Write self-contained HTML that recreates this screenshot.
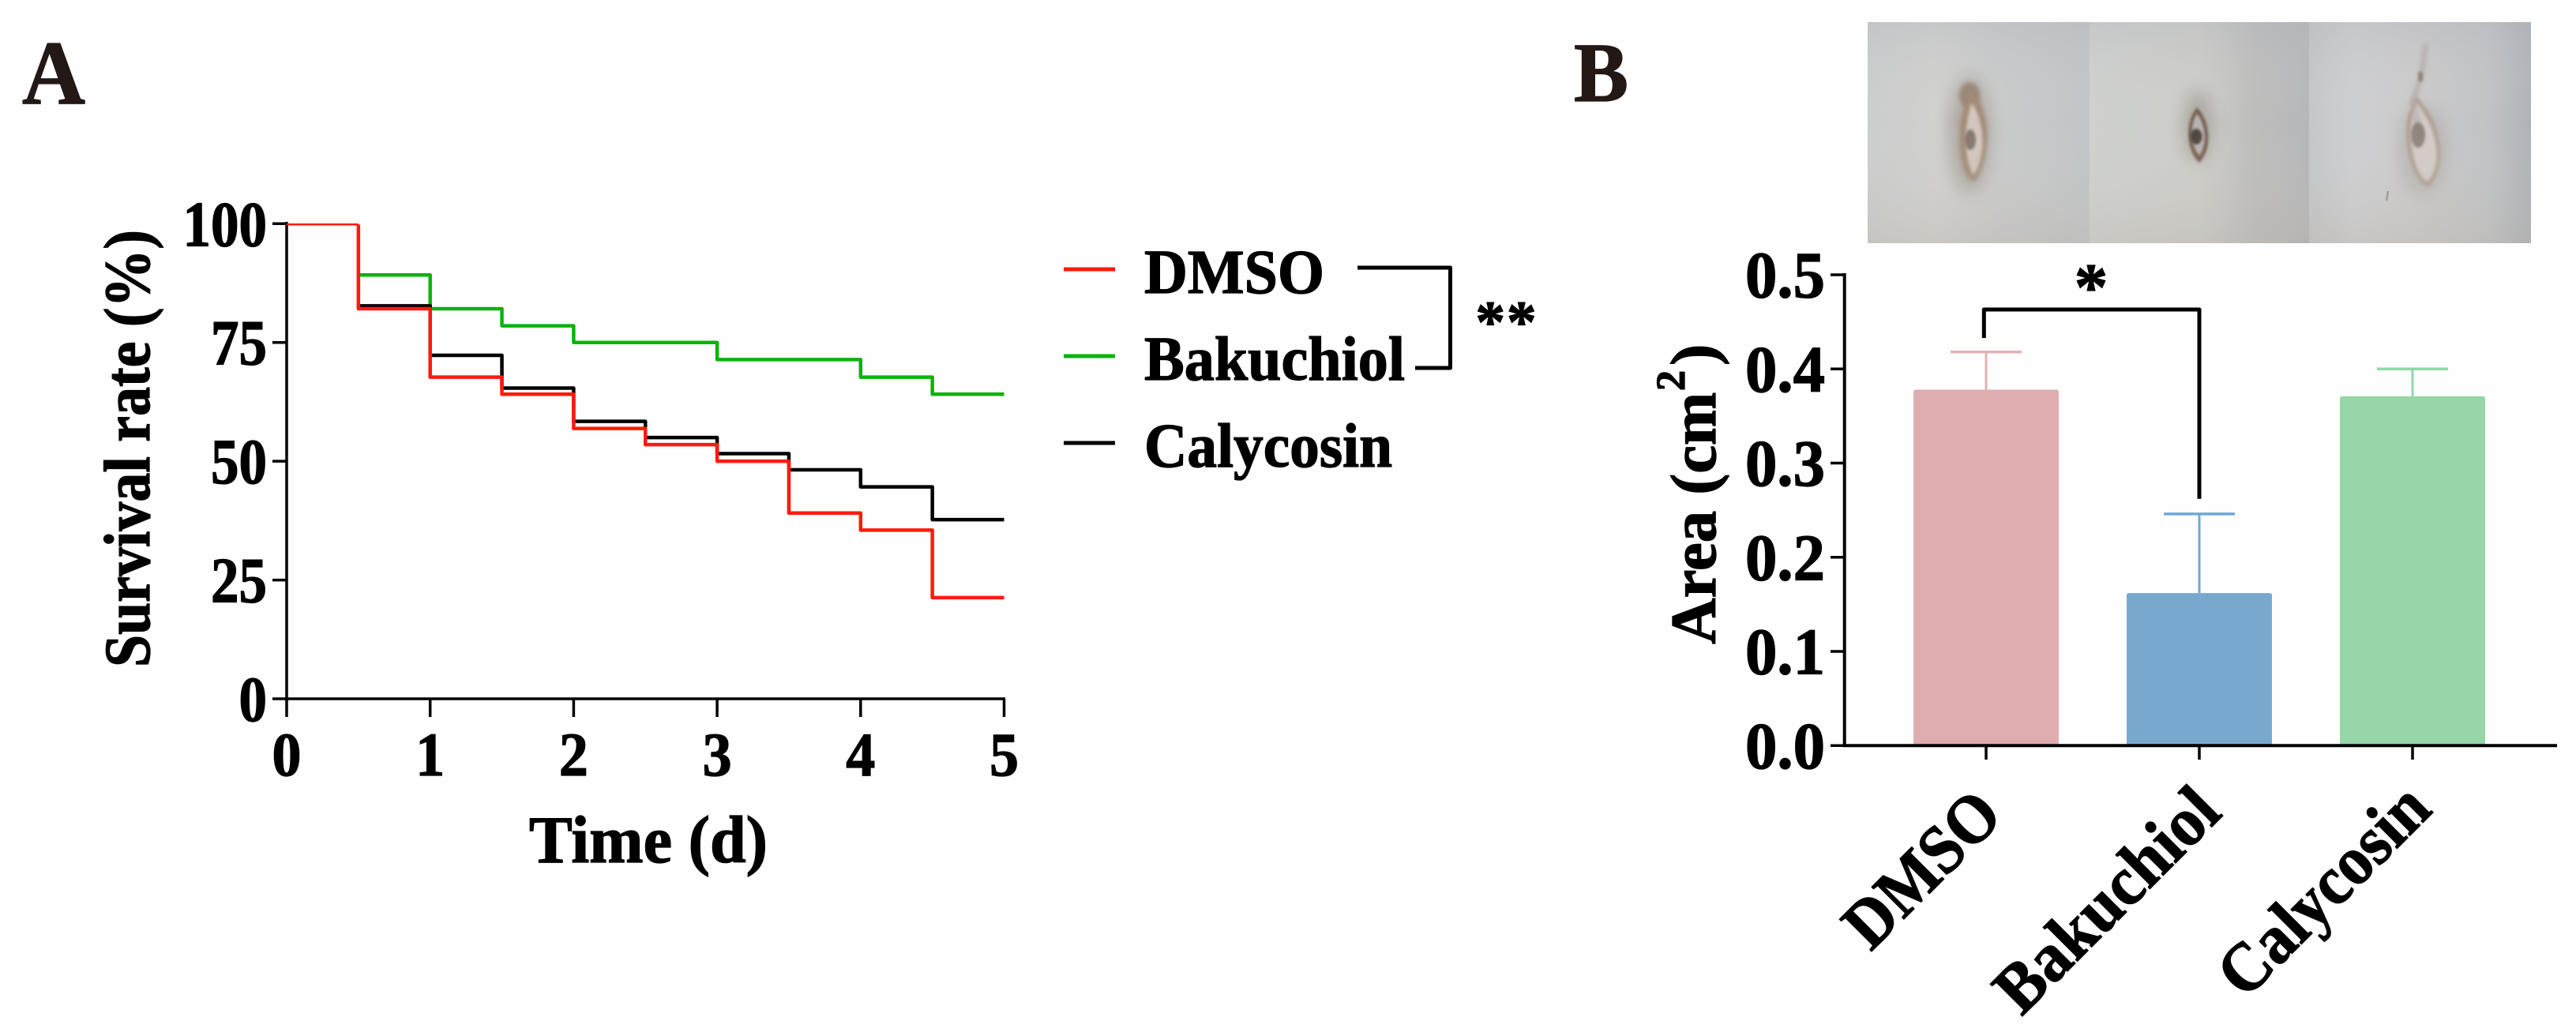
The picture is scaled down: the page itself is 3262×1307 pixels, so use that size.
<!DOCTYPE html>
<html lang="en">
<head>
<meta charset="utf-8">
<title>Survival rate and wound area</title>
<style>
html,body{margin:0;padding:0;background:#fefefe;width:3262px;height:1307px;overflow:hidden}
svg{display:block}
text{font-family:"Liberation Serif","Times New Roman",serif;font-weight:bold;fill:#000;stroke:#000;stroke-width:1.3px}
</style>
</head>
<body>
<svg id="fig" xmlns="http://www.w3.org/2000/svg" width="3262" height="1307" viewBox="0 0 3262 1307">
  <defs>
    <clipPath id="photo-clip"><rect x="2365" y="28" width="840" height="280"/></clipPath>
    <filter id="b3" x="-60%" y="-60%" width="220%" height="220%"><feGaussianBlur stdDeviation="3"/></filter>
    <filter id="b2" x="-60%" y="-60%" width="220%" height="220%"><feGaussianBlur stdDeviation="2"/></filter>
    <filter id="b8" x="-100%" y="-100%" width="300%" height="300%"><feGaussianBlur stdDeviation="11"/></filter>
    <filter id="b1" x="-50%" y="-50%" width="200%" height="200%"><feGaussianBlur stdDeviation="1.5"/></filter>
    <filter id="b20" x="-100%" y="-20%" width="300%" height="140%"><feGaussianBlur stdDeviation="14"/></filter>
    <linearGradient id="p1" x1="0" x2="1" y1="0" y2="0">
      <stop offset="0" stop-color="#cbcdcd"/><stop offset=".3" stop-color="#d1d1ce"/><stop offset=".6" stop-color="#c9caca"/><stop offset="1" stop-color="#c1c5c7"/>
    </linearGradient>
    <linearGradient id="p2" x1="0" x2="1" y1="0" y2="0">
      <stop offset="0" stop-color="#cfd1cf"/><stop offset=".5" stop-color="#cdcdc8"/><stop offset=".75" stop-color="#bfbfbe"/><stop offset="1" stop-color="#b5b6b9"/>
    </linearGradient>
    <linearGradient id="p3" x1="0" x2="1" y1="0" y2="0">
      <stop offset="0" stop-color="#c4c6c8"/><stop offset=".2" stop-color="#cecfd2"/><stop offset=".5" stop-color="#cbcaca"/><stop offset=".8" stop-color="#c1c3c6"/><stop offset="1" stop-color="#aeb2b7"/>
    </linearGradient>
    <linearGradient id="shade" x1="0" x2="0" y1="0" y2="1">
      <stop offset="0" stop-color="#aeb2bc" stop-opacity=".3"/><stop offset=".45" stop-color="#d8d8d4" stop-opacity="0"/><stop offset="1" stop-color="#b8afa2" stop-opacity=".28"/>
    </linearGradient>
  </defs>

  <g id="photo-strip" clip-path="url(#photo-clip)">
    <g>
      <rect x="2365" y="28" width="281" height="280" fill="url(#p1)"/>
      <ellipse cx="2494" cy="170" rx="26" ry="74" fill="#85786c" opacity=".45" filter="url(#b8)"/>
      <ellipse cx="2494" cy="120" rx="13" ry="16" fill="#7c5a3e" opacity=".55" filter="url(#b3)"/>
      <path d="M2495 113C2522 140 2522 200 2500 230C2478 224 2476 150 2495 113Z" fill="#a08670" filter="url(#b3)"/>
      <path d="M2497 130C2516 158 2514 200 2499 222C2488 206 2485 160 2497 130Z" fill="#d2c6be" filter="url(#b2)"/>
      <ellipse cx="2495" cy="177" rx="7" ry="13" fill="#83766e" filter="url(#b1)"/>
    </g>
    <g>
      <rect x="2646" y="28" width="278" height="280" fill="url(#p2)"/>
      <ellipse cx="2783" cy="160" rx="18" ry="46" fill="#7a7068" opacity=".42" filter="url(#b8)"/>
      <path d="M2782 136C2800 155 2801 190 2785 206C2769 192 2766 155 2782 136Z" fill="#735d4c" filter="url(#b1)"/>
      <path d="M2782 144C2794 158 2795 184 2785 197C2774 186 2772 158 2782 144Z" fill="#b8b3b3" filter="url(#b1)"/>
      <ellipse cx="2781" cy="173" rx="7.5" ry="10" fill="#4f433b" filter="url(#b1)"/>
    </g>
    <g>
      <rect x="2924" y="28" width="281" height="280" fill="url(#p3)"/>
      <path d="M3072 55 L3066 98 L3053 135" stroke="#8a7260" stroke-width="5" fill="none" opacity=".4" filter="url(#b3)"/>
      <ellipse cx="3065" cy="97" rx="3" ry="7" fill="#7a5c44" opacity=".7" filter="url(#b1)"/>
      <ellipse cx="3068" cy="190" rx="30" ry="58" fill="#8f857c" opacity=".3" filter="url(#b8)"/>
      <path d="M3060 122C3094 160 3098 212 3076 236C3056 234 3042 182 3050 145Z" fill="#ae9a8a" filter="url(#b2)"/>
      <path d="M3060 130C3089 165 3093 208 3075 230C3060 228 3048 182 3054 150Z" fill="#d2cbc7" filter="url(#b2)"/>
      <path d="M3058 125L3056 160L3066 160Z" fill="#a9a9ad" opacity=".7" filter="url(#b3)"/>
      <ellipse cx="3062" cy="171" rx="9" ry="16" fill="#8e847c" filter="url(#b1)"/>
      <path d="M3024 242 L3022 254" stroke="#9a8470" stroke-width="2.5" fill="none" opacity=".8"/>
    </g>
    <rect x="2365" y="28" width="840" height="280" fill="url(#shade)"/>
    <rect x="2840" y="28" width="40" height="280" fill="#b6b5b4" opacity=".25" filter="url(#b20)"/>
  </g>

  <g id="chart-a"></g>
  <g id="chart-b"></g>

  <text x="28" y="131" font-size="115" textLength="80" lengthAdjust="spacingAndGlyphs" style="fill:#231815;stroke:#231815">A</text>
  <text x="1993" y="128" font-size="107" textLength="69" lengthAdjust="spacingAndGlyphs" style="fill:#231815;stroke:#231815">B</text>
</svg>

<script>
// ---- Survival chart data ----
const survivalTimes = [0, 0.5, 1, 1.5, 2, 2.5, 3, 3.5, 4, 4.5, 5];
const bakuchiolSurvival = [100, 89.2, 82.1, 78.5, 75, 75, 71.4, 71.4, 67.7, 64.1, 64.1];
const calycosinSurvival = [100, 82.7, 72.3, 65.4, 58.4, 55, 51.6, 48.2, 44.6, 37.7, 37.7];
const dmsoSurvival = [100, 82.1, 67.7, 64.1, 56.9, 53.5, 50, 39.1, 35.5, 21.3, 21.3];
const survivalYTicks = [0, 25, 50, 75, 100];
const survivalXTicks = [0, 1, 2, 3, 4, 5];
const legendLabels = ['DMSO', 'Bakuchiol', 'Calycosin'];

// ---- Bar chart data ----
const barCategories = ['DMSO', 'Bakuchiol', 'Calycosin'];
const barMeans = [0.378, 0.162, 0.371];
const barErrorTops = [0.418, 0.246, 0.4];
const areaYTicks = ['0.0', '0.1', '0.2', '0.3', '0.4', '0.5'];

const NS = 'http://www.w3.org/2000/svg';
function mk(parent, tag, attrs, text) {
  const el = document.createElementNS(NS, tag);
  for (const k in attrs) el.setAttribute(k, attrs[k]);
  if (text !== undefined) el.textContent = text;
  parent.appendChild(el);
  return el;
}
function fitted(parent, x, y, size, len, str, extra) {
  return mk(parent, 'text', Object.assign({x: x, y: y, 'font-size': size, textLength: len, lengthAdjust: 'spacingAndGlyphs'}, extra || {}), str);
}

// ================= Panel A =================
const A = document.getElementById('chart-a');
const sx = t => 363 + t * (1271.5 - 363) / 5;
const sy = v => 885 - v * (885 - 283.3) / 100;

const axisA = mk(A, 'path', {d: `M${sx(0)} 281V${sy(0)}H${sx(5) + 1.5}`, fill: 'none', stroke: '#000', 'stroke-width': 3.5});



survivalYTicks.forEach(v => {
  const t = mk(A, 'line', {x1: sx(0) - 18, x2: sx(0), y1: sy(v), y2: sy(v), stroke: '#000', 'stroke-width': 3.5});
  
  
  const label = String(v);
  const l = fitted(A, 338, sy(v) + 28, 82, label.length * 35.5, label, {'text-anchor': 'end'});
  
  
});
survivalXTicks.forEach(v => {
  const t = mk(A, 'line', {x1: sx(v), x2: sx(v), y1: sy(0), y2: 908, stroke: '#000', 'stroke-width': 3.5});
  
  
  const l = fitted(A, sx(v), 982, 78, 37, String(v), {'text-anchor': 'middle'});
  
  
});

function stepPath(values, from) {
  let d = `M${sx(survivalTimes[from])} ${sy(values[from])}`;
  for (let i = from + 1; i < values.length; i++) {
    d += `H${sx(survivalTimes[i])}V${sy(values[i])}`;
  }
  return d;
}
const greenLine = mk(A, 'path', {d: stepPath(bakuchiolSurvival, 1), fill: 'none', stroke: '#0db20d', 'stroke-width': 4.5, 'stroke-linejoin': 'round'});


const blackLine = mk(A, 'path', {d: stepPath(calycosinSurvival, 1), fill: 'none', stroke: '#000', 'stroke-width': 4.5, 'stroke-linejoin': 'round'});


const redStart = mk(A, 'path', {d: `M${sx(survivalTimes[0])} ${sy(dmsoSurvival[0]) + 1}H${sx(survivalTimes[1])}`, fill: 'none', stroke: '#ff1a0d', 'stroke-width': 2.5});


const redLine = mk(A, 'path', {d: `M${sx(survivalTimes[1])} ${sy(dmsoSurvival[0]) + 1}V${sy(dmsoSurvival[1])}` + stepPath(dmsoSurvival, 1).replace(/^M[^H]*/, ''), fill: 'none', stroke: '#ff1a0d', 'stroke-width': 4.5, 'stroke-linejoin': 'round'});



const yTitle = fitted(A, 0, 0, 83, 554, 'Survival rate (%)', {transform: 'translate(189 845) rotate(-90)'});


const xTitle = fitted(A, 670, 1092, 85, 302, 'Time (d)');



// Legend
const legendColors = ['#ff1a0d', '#0db20d', '#000'];
const legendWidths = [228, 330, 314];
legendLabels.forEach((name, i) => {
  const y = 341 + i * 110;
  const s = mk(A, 'line', {x1: 1347, x2: 1412, y1: y, y2: y, stroke: legendColors[i], 'stroke-width': 5});
  
  
  const t = fitted(A, 1449, y + 30, 79, legendWidths[i], name);
  
  
});
const legendBracket = mk(A, 'path', {d: 'M1719 339H1836.5V466H1792', fill: 'none', stroke: '#000', 'stroke-width': 5, 'stroke-linejoin': 'round'});


const legendStars = mk(A, 'text', {x: 1908, y: 433, 'font-size': 75, 'text-anchor': 'middle', 'letter-spacing': 2}, '**');



// ================= Panel B =================
const B = document.getElementById('chart-b');
const by = v => 944.3 - v * (944.3 - 348) / 0.5;
const bx = i => 2515 + i * 270;
const barW = 184, capW = 90;
const barColors = ['#dfadaf', '#79a8cf', '#97d6a7'];
const errColors = ['#e2b3b5', '#6fa8d8', '#8fd8a8'];

barCategories.forEach((name, i) => {
  const key = name.toLowerCase();
  const stem = mk(B, 'line', {x1: bx(i), x2: bx(i), y1: by(barMeans[i]), y2: by(barErrorTops[i]), stroke: errColors[i], 'stroke-width': 3});
  
  
  const cap = mk(B, 'line', {x1: bx(i) - capW / 2, x2: bx(i) + capW / 2, y1: by(barErrorTops[i]), y2: by(barErrorTops[i]), stroke: errColors[i], 'stroke-width': 3.5});
  
  
  const bar = mk(B, 'path', {d: `M${bx(i) - barW / 2} ${by(0)}V${by(barMeans[i]) + 3}q0 -3 3 -3H${bx(i) + barW / 2 - 3}q3 0 3 3V${by(0)}Z`, fill: barColors[i]});
  
  
  const t = mk(B, 'line', {x1: bx(i), x2: bx(i), y1: by(0), y2: 962, stroke: '#000', 'stroke-width': 3.5});
  
  
});

const axisB = mk(B, 'path', {d: `M2335.7 346V${by(0)}H3238`, fill: 'none', stroke: '#000', 'stroke-width': 4});



areaYTicks.forEach(label => {
  const v = parseFloat(label);
  const t = mk(B, 'line', {x1: 2318, x2: 2336, y1: by(v), y2: by(v), stroke: '#000', 'stroke-width': 3.5});
  
  
  const l = fitted(B, 2311, by(v) + 28.5, 84, 101, label, {'text-anchor': 'end'});
  
  
});

const catStarts = [[2369, 1206], [2560, 1288], [2843, 1267]];
const catLengths = [240, 362, 338];
barCategories.forEach((name, i) => {
  const t = fitted(B, 0, 0, 88, catLengths[i], name, {transform: `translate(${catStarts[i][0]} ${catStarts[i][1]}) rotate(-45)`});
  
  
});

const areaTitle = fitted(B, 0, 0, 82, 319, 'Area (cm', {transform: 'translate(2172 815.7) rotate(-90)'});


const areaSup = mk(B, 'text', {transform: 'translate(2133 495) rotate(-90)', 'font-size': 52}, '2');


const areaClose = mk(B, 'text', {transform: 'translate(2172 463) rotate(-90)', 'font-size': 82}, ')');



const barBracket = mk(B, 'path', {d: 'M2512.3 428V392H2785V631.7', fill: 'none', stroke: '#000', 'stroke-width': 5, 'stroke-linejoin': 'round'});


const barStar = mk(B, 'text', {x: 2648, y: 392, 'font-size': 85, 'text-anchor': 'middle'}, '*');


</script>
</body>
</html>
